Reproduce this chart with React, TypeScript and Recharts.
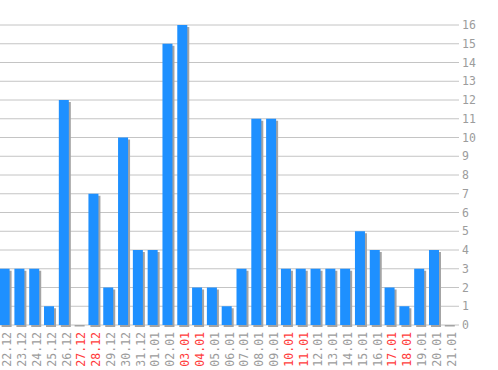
import { BarChart, Bar, XAxis, YAxis, CartesianGrid } from "recharts";

// dni i ilości
const days = [
  "22.12", "23.12", "24.12", "25.12", "26.12", "27.12", "28.12", "29.12",
  "30.12", "31.12", "01.01", "02.01", "03.01", "04.01", "05.01", "06.01",
  "07.01", "08.01", "09.01", "10.01", "11.01", "12.01", "13.01", "14.01",
  "15.01", "16.01", "17.01", "18.01", "19.01", "20.01", "21.01",
];
const counts = [
  3, 3, 3, 1, 12, 0, 7, 2, 10, 4, 4, 15, 16, 2, 2, 1,
  3, 11, 11, 3, 3, 3, 3, 3, 5, 4, 2, 1, 3, 4, 0,
];
// weekendy - etykiety na czerwono
const weekendDays = ["27.12", "28.12", "03.01", "04.01", "10.01", "11.01", "17.01", "18.01"];
const yTicks = [0, 1, 2, 3, 4, 5, 6, 7, 8, 9, 10, 11, 12, 13, 14, 15, 16];

const data = days.map((d, i) => ({ day: d, count: counts[i] }));

const FONT = "'DejaVu Sans Mono', monospace";

const ShadowBar = (props: any) => {
  const { x, y, width, height } = props;
  const bx = x - 2.4;
  return (
    <g>
      {height > 0 ? (
        <rect x={bx + 2} y={y + 2} width={width} height={height} fill="#a4a4a4" />
      ) : (
        <rect x={bx + 1} y={y} width={width} height={1.5} fill="#a4a4a4" />
      )}
      {height > 0 && <rect x={bx} y={y} width={width} height={height} fill="#1e90ff" />}
    </g>
  );
};

const DayTick = (props: any) => {
  const { x, y, payload } = props;
  const red = weekendDays.includes(payload.value);
  return (
    <text
      x={0}
      y={0}
      transform={`translate(${x},${y - 1}) rotate(-90)`}
      textAnchor="end"
      dy="0.35em"
      fontFamily={FONT}
      fontSize={11.5}
      fill={red ? "#ff3c3c" : "#9c9c9c"}
    >
      {payload.value}
    </text>
  );
};

const App = () => {
  return (
    <div style={{ position: "absolute", left: 0, top: 0 }}>
      <BarChart
        width={498}
        height={370}
        data={data}
        margin={{ top: 25, right: 0, bottom: 0, left: 0 }}
        barCategoryGap={0}
      >
        <CartesianGrid vertical={false} stroke="#c4c4c4" strokeWidth={1} />
        <XAxis
          dataKey="day"
          height={45}
          axisLine={false}
          tickLine={false}
          interval={0}
          tick={<DayTick />}
        />
        <YAxis
          orientation="right"
          width={39}
          domain={[0, 16]}
          ticks={yTicks}
          interval={0}
          axisLine={false}
          tickLine={false}
          tickSize={0}
          tickMargin={3}
          tick={{ fontFamily: FONT, fontSize: 11.5, fill: "#9c9c9c" }}
        />
        <Bar dataKey="count" barSize={10} shape={<ShadowBar />} isAnimationActive={false} />
      </BarChart>
    </div>
  );
};

export default App;
